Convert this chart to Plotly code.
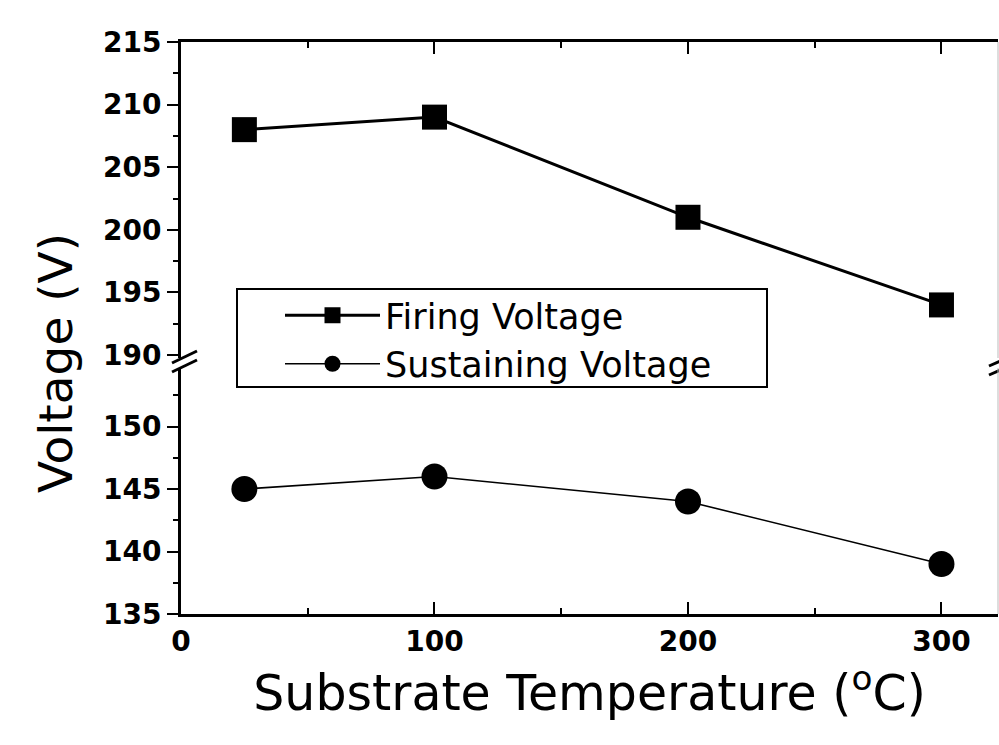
import plotly.graph_objects as go

temps = [25, 100, 200, 300]
firing_voltage = [208, 209, 201, 194]
sustaining_voltage = [145, 146, 144, 139]
x_ticks = [0, 100, 200, 300]
upper_ticks = [190, 195, 200, 205, 210, 215]
lower_ticks = [135, 140, 145, 150]

FONT = "DejaVu Sans"
X_RANGE = [0, 322.3]
UP_RANGE = [189.76, 215]
LO_RANGE = [135, 154.68]
UP_DOM = [(614 - 358) / 572, 1.0]
LO_DOM = [0.0, (614 - 368) / 572]


def px(xp):
    return (xp - 181) / 817


def py(yp):
    return (614 - yp) / 572


fig = go.Figure()
fig.add_trace(go.Scatter(
    x=temps, y=firing_voltage, name="Firing Voltage", xaxis="x2", yaxis="y2",
    mode="lines+markers", line=dict(color="black", width=3),
    marker=dict(symbol="square", size=25, color="black")))
fig.add_trace(go.Scatter(
    x=temps, y=sustaining_voltage, name="Sustaining Voltage", xaxis="x", yaxis="y",
    mode="lines+markers", line=dict(color="black", width=1.6),
    marker=dict(symbol="circle", size=26, color="black")))

tickfont = dict(family=FONT, size=28, color="black", weight="bold")
fig.update_layout(
    width=999, height=745,
    margin=dict(l=181, r=1, t=42, b=131),
    paper_bgcolor="white", plot_bgcolor="white",
    font=dict(family=FONT, color="black"),
    showlegend=True,
    legend=dict(x=px(280), y=py(286), xanchor="left", yanchor="top",
                bgcolor="rgba(0,0,0,0)", borderwidth=0,
                font=dict(family=FONT, size=35, color="black"),
                itemwidth=95, tracegroupgap=0),
    xaxis=dict(domain=[0, 1], range=X_RANGE, anchor="y", tickvals=x_ticks,
               ticks="inside", ticklen=12, tickwidth=2, tickcolor="black",
               minor=dict(dtick=50, ticks="inside", ticklen=6, tickwidth=2, tickcolor="black"),
               showline=True, linecolor="black", linewidth=3, showgrid=False, zeroline=False,
               tickfont=tickfont,
               title=dict(text="Substrate Temperature (<sup>o</sup>C)",
                          font=dict(family=FONT, size=49, color="black"), standoff=18)),
    xaxis2=dict(domain=[0, 1], range=X_RANGE, anchor="y2", overlaying="x", side="top",
                tickvals=x_ticks, showticklabels=False,
                ticks="inside", ticklen=12, tickwidth=2, tickcolor="black",
                minor=dict(dtick=50, ticks="inside", ticklen=6, tickwidth=2, tickcolor="black"),
                showline=True, linecolor="black", linewidth=3, showgrid=False, zeroline=False),
    yaxis=dict(domain=LO_DOM, range=LO_RANGE, anchor="x", tickvals=lower_ticks,
               ticks="outside", ticklen=11, tickwidth=2, tickcolor="black",
               minor=dict(dtick=2.5, ticks="outside", ticklen=5, tickwidth=2, tickcolor="black"),
               showline=True, linecolor="black", linewidth=3, showgrid=False, zeroline=False,
               tickfont=tickfont),
    yaxis2=dict(domain=UP_DOM, range=UP_RANGE, anchor="x", tickvals=upper_ticks,
                ticks="outside", ticklen=11, tickwidth=2, tickcolor="black",
                minor=dict(dtick=2.5, ticks="outside", ticklen=5, tickwidth=2, tickcolor="black"),
                showline=True, linecolor="black", linewidth=3, showgrid=False, zeroline=False,
                tickfont=tickfont),
)

# y-axis title centred on the whole stacked axis
fig.add_annotation(text="Voltage (V)", xref="paper", yref="paper",
                   x=px(55), y=py(363), xanchor="center", yanchor="middle",
                   showarrow=False, textangle=-90,
                   font=dict(family=FONT, size=47, color="black"))

# legend frame
fig.add_shape(type="rect", xref="paper", yref="paper", layer="below",
              x0=px(237), y0=py(387), x1=px(767), y1=py(289),
              line=dict(color="black", width=2), fillcolor="white")

# axis-break marks (decorations)
for dy in (0, 9):
    fig.add_shape(type="line", xref="paper", yref="paper",
                  x0=px(172), y0=py(363 + dy), x1=px(197), y1=py(351 + dy),
                  line=dict(color="black", width=3))
    fig.add_shape(type="line", xref="paper", yref="paper",
                  x0=px(989), y0=py(366 + dy), x1=px(1005), y1=py(359 + dy),
                  line=dict(color="black", width=3))

# faint right frame
fig.add_shape(type="line", xref="paper", yref="paper", x0=1, x1=1,
              y0=UP_DOM[0], y1=1, line=dict(color="#bbbbbb", width=1))
fig.add_shape(type="line", xref="paper", yref="paper", x0=1, x1=1,
              y0=0, y1=LO_DOM[1], line=dict(color="#bbbbbb", width=1))

fig.write_html("out.html")
